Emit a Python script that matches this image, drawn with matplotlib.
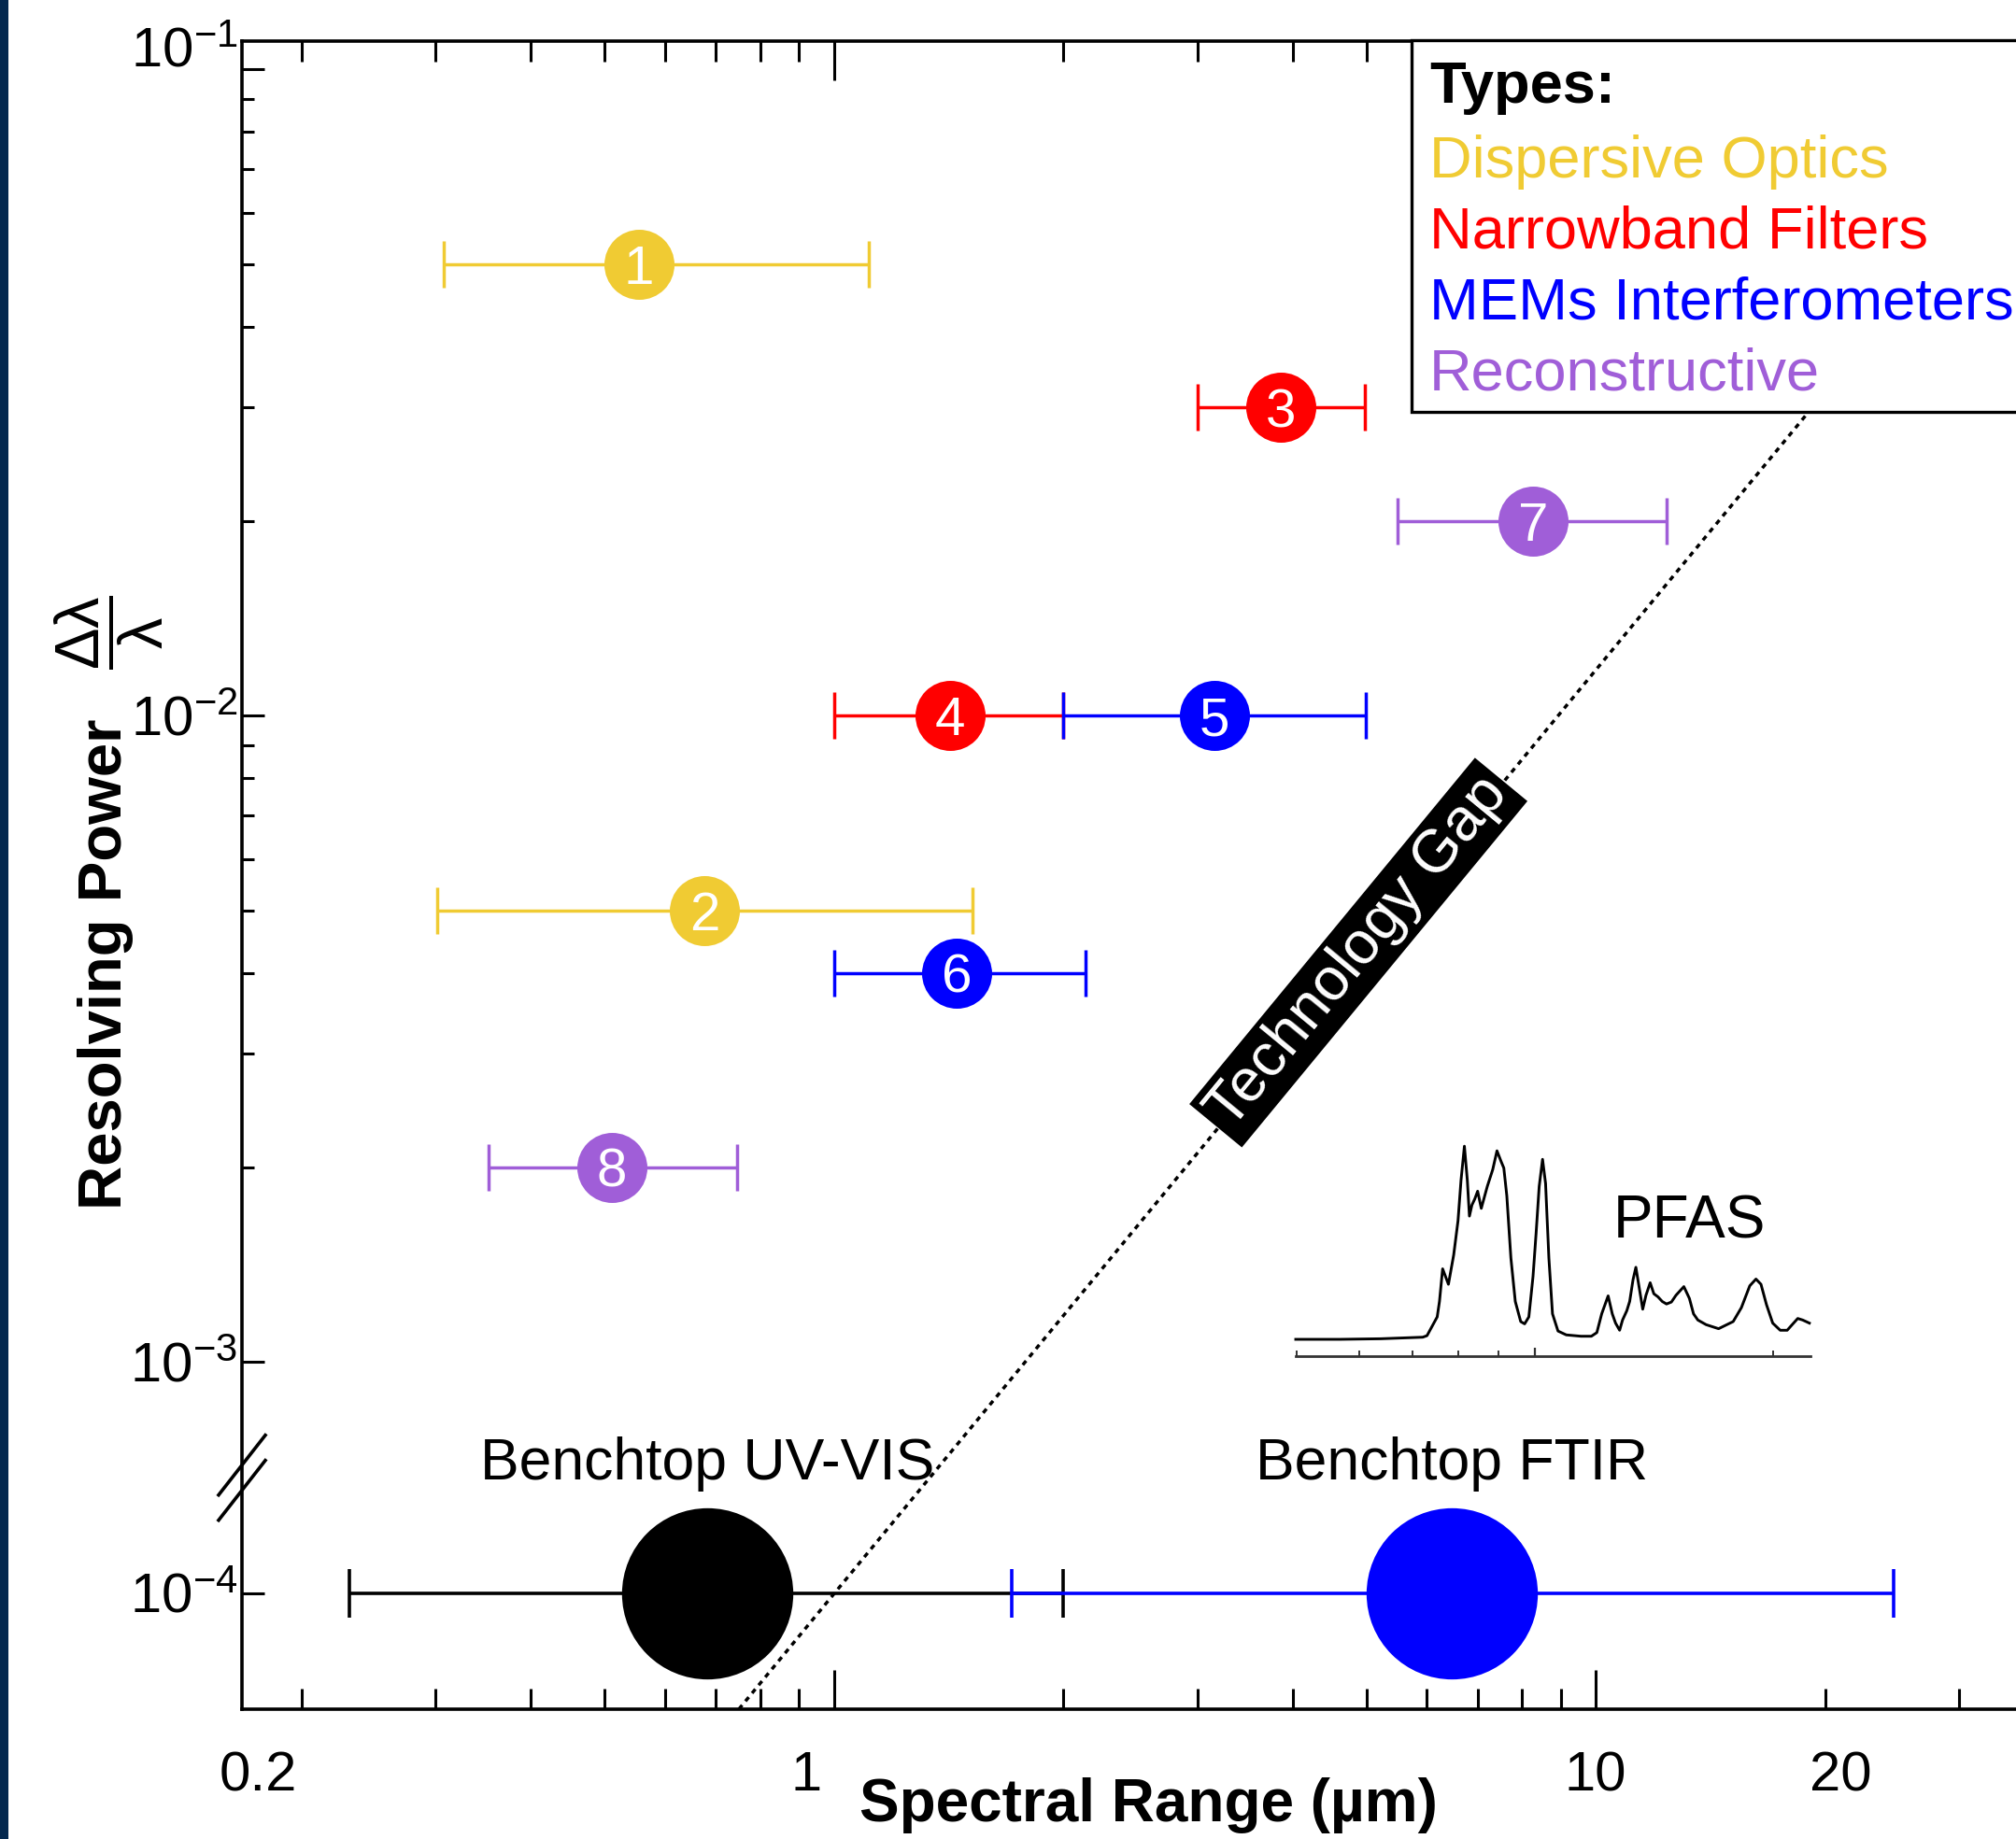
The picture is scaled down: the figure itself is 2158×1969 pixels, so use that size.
import numpy as np
import matplotlib
matplotlib.use("Agg")
import matplotlib.pyplot as plt
from matplotlib.ticker import FixedLocator, FixedFormatter, NullFormatter
from matplotlib.patches import Rectangle
from matplotlib.lines import Line2D
from matplotlib.transforms import ScaledTranslation, blended_transform_factory, IdentityTransform

# ---------------- data ----------------
point_labels = ["1", "2", "3", "4", "5", "6", "7", "8"]
point_types = ["Dispersive Optics", "Dispersive Optics", "Narrowband Filters", "Narrowband Filters",
               "MEMs Interferometers", "MEMs Interferometers", "Reconstructive", "Reconstructive"]
x_center = [0.554, 0.676, 3.86, 1.42, 3.16, 1.45, 8.27, 0.511]
x_low = [0.307, 0.301, 3.00, 1.00, 2.00, 1.00, 5.50, 0.352]
x_high = [1.11, 1.52, 4.97, 2.00, 4.99, 2.14, 12.4, 0.747]
resolving = [0.05, 0.005, 0.03, 0.01, 0.01, 0.004, 0.02, 0.002]

bench_names = ["Benchtop UV-VIS", "Benchtop FTIR"]
bench_center = [0.681, 6.47]
bench_low = [0.231, 1.71]
bench_high = [2.00, 24.6]
bench_res = [1e-4, 1e-4]
bench_colors = ["#000000", "#0000FF"]

type_names = ["Dispersive Optics", "Narrowband Filters", "MEMs Interferometers", "Reconstructive"]
type_colors = ["#F0CB33", "#FF0000", "#0000FF", "#A05ED8"]

gap_x = [0.75, 40.0]
gap_y = [6.62e-5, 0.0853]
gap_label_x, gap_label_y = 4.88, 0.0043

pfas_wavelength = [4.99, 5.67, 6.39, 7.22, 7.31, 7.53, 7.58, 7.65, 7.78, 7.90, 8.00, 8.07, 8.15, 8.22,
                   8.27, 8.33, 8.40, 8.47, 8.56, 8.71, 8.85, 8.96, 9.07, 9.14, 9.22, 9.33, 9.45, 9.60,
                   9.71, 9.83, 9.95, 10.04, 10.13, 10.23, 10.32, 10.42, 10.53, 10.70, 10.96, 11.44,
                   11.79, 11.98, 12.15, 12.38, 12.53, 12.65, 12.80, 12.91, 13.07, 13.18, 13.31, 13.42,
                   13.56, 13.69, 13.82, 13.99, 14.14, 14.31, 14.49, 14.67, 14.88, 15.08, 15.43, 15.68,
                   15.87, 16.07, 16.46, 17.07, 17.81, 18.24, 18.69, 19.03, 19.31, 19.62, 19.98, 20.42,
                   20.84, 21.23, 21.49, 21.80, 22.23]
pfas_absorbance = [0.0, 0.0, 0.003, 0.011, 0.019, 0.116, 0.196, 0.365, 0.285, 0.437, 0.614, 0.823,
                   1.0, 0.823, 0.638, 0.695, 0.727, 0.767, 0.678, 0.791, 0.879, 0.976, 0.920, 0.887,
                   0.743, 0.421, 0.196, 0.092, 0.080, 0.116, 0.325, 0.550, 0.791, 0.932, 0.807, 0.421,
                   0.132, 0.043, 0.023, 0.016, 0.016, 0.035, 0.132, 0.225, 0.132, 0.084, 0.047, 0.100,
                   0.148, 0.196, 0.309, 0.373, 0.260, 0.156, 0.228, 0.293, 0.236, 0.220, 0.196, 0.183,
                   0.193, 0.228, 0.273, 0.212, 0.132, 0.100, 0.076, 0.055, 0.092, 0.164, 0.277, 0.312,
                   0.285, 0.180, 0.084, 0.047, 0.047, 0.084, 0.108, 0.100, 0.084]
pfas_ticks_major = [10]
pfas_ticks_minor = [5, 6, 7, 8, 9, 20]

x_major = [1, 10]
x_major_labels = ["1", "10"]
x_minor = [0.2, 0.3, 0.4, 0.5, 0.6, 0.7, 0.8, 0.9, 2, 3, 4, 5, 6, 7, 8, 9, 20, 30]
x_minor_labels = ["0.2", "", "", "", "", "", "", "", "", "", "", "", "", "", "", "", "20", ""]
y_major = [1e-4, 1e-3, 1e-2, 1e-1]
y_major_labels = [r"$10^{-4}$", r"$10^{-3}$", r"$10^{-2}$", r"$10^{-1}$"]
y_minor = [2e-3, 3e-3, 4e-3, 5e-3, 6e-3, 7e-3, 8e-3, 9e-3,
           2e-2, 3e-2, 4e-2, 5e-2, 6e-2, 7e-2, 8e-2, 9e-2]

# ---------------- style ----------------
plt.rcParams["font.family"] = ["Liberation Sans", "DejaVu Sans"]
plt.rcParams["mathtext.fontset"] = "custom"
plt.rcParams["mathtext.rm"] = "Liberation Sans"
plt.rcParams["mathtext.it"] = "Liberation Sans:italic"
plt.rcParams["mathtext.bf"] = "Liberation Sans:bold"
plt.rcParams["mathtext.sf"] = "Liberation Sans"

W, H = 2158, 1969
def fx(px):
    return px / W
def fy(py):
    return 1 - py / H

# broken log axis: log scale with a skipped region
Y_BREAK_LOG = -3.179
Y_SKIP = 0.642

def fwd(v):
    v = np.asarray(v, dtype=float)
    with np.errstate(divide="ignore", invalid="ignore"):
        L = np.log10(v)
    return np.where(L >= Y_BREAK_LOG, L,
                    np.where(L <= Y_BREAK_LOG - Y_SKIP, L + Y_SKIP, Y_BREAK_LOG))

def inv(f):
    f = np.asarray(f, dtype=float)
    return np.where(f >= Y_BREAK_LOG, 10.0 ** f, 10.0 ** (f - Y_SKIP))

fig = plt.figure(figsize=(W / 100, H / 100), dpi=100)
ax = fig.add_axes([fx(259), fy(1830), fx(2199) - fx(259), fy(44) - fy(1830)])
ax.set_xscale("log")
ax.set_yscale("function", functions=(fwd, inv))
ax.set_xlim(0.167, 40)
ax.set_ylim(6.62e-5, 0.1106)

for s in ax.spines.values():
    s.set_linewidth(2.6)

ax.xaxis.set_major_locator(FixedLocator(x_major))
ax.xaxis.set_major_formatter(FixedFormatter(x_major_labels))
ax.xaxis.set_minor_locator(FixedLocator(x_minor))
ax.xaxis.set_minor_formatter(FixedFormatter(x_minor_labels))
ax.yaxis.set_major_locator(FixedLocator(y_major))
ax.yaxis.set_major_formatter(FixedFormatter(y_major_labels))
ax.yaxis.set_minor_locator(FixedLocator(y_minor))
ax.yaxis.set_minor_formatter(NullFormatter())

ax.tick_params(axis="x", which="major", direction="in", length=30, width=2.2,
               top=True, labelsize=43, pad=32)
ax.tick_params(axis="x", which="minor", direction="in", length=16, width=2.2,
               top=True, labelsize=43, pad=32)
ax.tick_params(axis="y", which="major", direction="in", length=17, width=2.2,
               right=False, labelsize=43, pad=3.5)
ax.tick_params(axis="y", which="minor", direction="in", length=9.5, width=2.2, right=False)

# technology gap line
ax.plot(gap_x, gap_y, color="black", lw=2.5, linestyle=(0, (1.6, 1.6)), zorder=1)

# benchtop instruments
for name, xc, lo, hi, yv, col in zip(bench_names, bench_center, bench_low, bench_high,
                                      bench_res, bench_colors):
    ax.errorbar([xc], [yv], xerr=[[xc - lo], [hi - xc]], fmt="none", ecolor=col,
                elinewidth=2.6, capsize=19, capthick=2.6, zorder=2)
    ax.plot([xc], [yv], "o", ms=132, color=col, mec="none", zorder=3)
    ax.annotate(name, xy=(xc, yv), xytext=(0, 88), textcoords="offset points",
                ha="center", va="baseline", fontsize=45, color="black")

# numbered technologies
color_of = dict(zip(type_names, type_colors))
for lab, t, xc, lo, hi, yv in zip(point_labels, point_types, x_center, x_low, x_high, resolving):
    col = color_of[t]
    ax.errorbar([xc], [yv], xerr=[[xc - lo], [hi - xc]], fmt="none", ecolor=col,
                elinewidth=2.5, capsize=18, capthick=2.5, zorder=2)
    ax.plot([xc], [yv], "o", ms=54, color=col, mec="none", zorder=3)
    ax.text(xc, yv, lab, color="white", fontsize=42, ha="center", va="center_baseline", zorder=4)

# technology gap label
p1 = ax.transData.transform((gap_x[0], gap_y[0]))
p2 = ax.transData.transform((gap_x[1], gap_y[1]))
angle = np.degrees(np.arctan2(p2[1] - p1[1], p2[0] - p1[0]))
ax.text(gap_label_x, gap_label_y, "Technology Gap", rotation=angle, rotation_mode="anchor",
        ha="center", va="center", fontsize=46.5, color="white", zorder=5,
        bbox=dict(boxstyle="square,pad=0.1", fc="black", ec="none"))

# axis labels
ax.set_xlabel("Spectral Range (µm)", fontsize=46, fontweight="bold")
ax.xaxis.set_label_coords(0.5, -0.041)
ax.set_ylabel("Resolving Power", fontsize=47, fontweight="bold")
ax.yaxis.set_label_coords(-0.0598, 0.4468)
fig.text(fx(117), fy(677), r"$\dfrac{\mathrm{\Delta\lambda}}{\mathrm{\lambda}}$",
         rotation=90, ha="center", va="center", fontsize=48)

# axis break marks
btrans = blended_transform_factory(ax.transAxes, ax.transData)
cx, cy = btrans.transform((0, 10 ** Y_BREAK_LOG))
for off in (13.5, -13.5):
    fig.add_artist(Line2D([cx - 25, cx + 25], [cy + off - 32, cy + off + 32],
                          transform=IdentityTransform(), color="black", lw=2.6, zorder=6))

# tick label nudges (as in the original figure)
def nudge(tick, dx_px, dy_px):
    tick.label1.set_transform(tick.label1.get_transform() +
                              ScaledTranslation(dx_px / 100, dy_px / 100, fig.dpi_scale_trans))

maj_x = ax.xaxis.get_major_ticks()
min_x = ax.xaxis.get_minor_ticks()
maj_y = ax.yaxis.get_major_ticks()
nudge(maj_x[0], -30, 0)
nudge(min_x[0], -47, 0)
nudge(min_x[16], 17, 0)
nudge(maj_y[3], 0, 24)

# PFAS inset
iax = fig.add_axes([fx(1387), fy(1452), fx(1938) - fx(1387), fy(1221) - fy(1452)])
iax.set_xscale("log")
iax.set_xlim(4.99, 22.3)
iax.set_ylim(-0.087, 1.03)
iax.plot(pfas_wavelength, pfas_absorbance, color="black", lw=2.1, clip_on=False)
iax.patch.set_visible(False)
for k in ("top", "left", "right"):
    iax.spines[k].set_visible(False)
iax.spines["bottom"].set_linewidth(2.0)
iax.spines["bottom"].set_color("#333333")
iax.xaxis.set_major_locator(FixedLocator(pfas_ticks_major))
iax.xaxis.set_minor_locator(FixedLocator(pfas_ticks_minor))
iax.xaxis.set_major_formatter(NullFormatter())
iax.xaxis.set_minor_formatter(NullFormatter())
iax.tick_params(axis="x", which="major", direction="in", length=6.5, width=1.6, color="#333333")
iax.tick_params(axis="x", which="minor", direction="in", length=4, width=1.4, color="#333333")
iax.set_yticks([])
fig.text(fx(1727), fy(1325), "PFAS", fontsize=46, ha="left", va="baseline")

# legend box
fig.add_artist(Rectangle((fx(1511), fy(441)), 0.5, fy(43) - fy(441), transform=fig.transFigure,
                         fc="white", ec="black", lw=2.4, zorder=10))
legend_rows = [("Types:", "black", "bold")] + [(n, c, "normal") for n, c in zip(type_names, type_colors)]
baselines = [110, 190, 266, 341, 417]
for (txt, col, wt), b in zip(legend_rows, baselines):
    fig.text(fx(1530), fy(b), txt, color=col, fontweight=wt, fontsize=45.5,
             ha="left", va="baseline", zorder=11)

# navy page edge
fig.add_artist(Rectangle((0, 0), fx(9), 1, transform=fig.transFigure, fc="#04294F",
                         ec="none", zorder=20))

fig.savefig("out.png", dpi=100)
